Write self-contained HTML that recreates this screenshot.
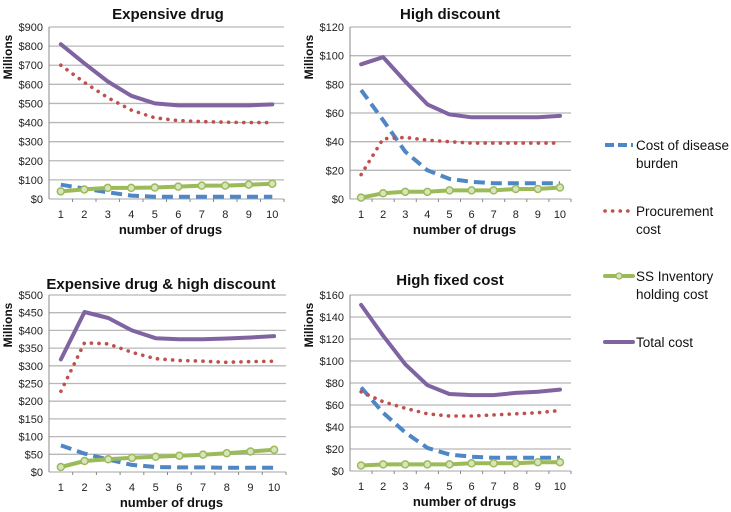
<!DOCTYPE html>
<html><head><meta charset="utf-8"><style>
body{margin:0;background:#fff;width:731px;height:512px;overflow:hidden;font-family:"Liberation Sans",sans-serif}
svg{display:block}
</style></head><body>
<svg id="s" width="731" height="512"></svg>
<script>
const categories=[1,2,3,4,5,6,7,8,9,10];
const titles=["Expensive drug","High discount","Expensive drug & high discount","High fixed cost"];
const yTicks1=[0,100,200,300,400,500,600,700,800,900];
const yTicks2=[0,20,40,60,80,100,120];
const yTicks3=[0,50,100,150,200,250,300,350,400,450,500];
const yTicks4=[0,20,40,60,80,100,120,140,160];
const disease1=[75,55,35,18,12,12,12,12,12,12];
const procure1=[700,610,530,465,425,410,405,402,400,400];
const ss1=[40,50,58,58,60,65,70,70,75,80];
const total1=[810,710,615,540,500,490,490,490,490,495];
const disease2=[76,55,33,20,14,12,11,11,11,11];
const procure2=[17,42,43,41,40,39,39,39,39,39];
const ss2=[1,4,5,5,6,6,6,7,7,8];
const total2=[94,99,82,66,59,57,57,57,57,58];
const disease3=[75,52,35,20,14,13,13,12,12,12];
const procure3=[228,365,362,338,320,315,313,310,312,313];
const ss3=[14,31,36,40,43,46,49,53,58,63];
const total3=[318,452,435,400,378,375,375,377,380,384];
const disease4=[76,53,35,21,15,13,12,12,12,12];
const procure4=[72,63,57,52,50,50,51,52,53,55];
const ss4=[5,6,6,6,6,7,7,7,8,8];
const total4=[151,123,97,78,70,69,69,71,72,74];

const NS="http://www.w3.org/2000/svg";
const svg=document.getElementById('s');
function mk(tag,attrs,parent,text){const e=document.createElementNS(NS,tag);for(const k in attrs)e.setAttribute(k,attrs[k]);if(text!==undefined)e.textContent=text;(parent||svg).appendChild(e);return e;}

const panels=[
 {x0:49,x1:284,yTop:27,yBot:199,ticks:yTicks1,series:[disease1,procure1,ss1,total1],tx:168,ty:19,name:'expensive-drug'},
 {x0:350,x1:571,yTop:27,yBot:199,ticks:yTicks2,series:[disease2,procure2,ss2,total2],tx:450,ty:19,name:'high-discount'},
 {x0:49,x1:286,yTop:295,yBot:472,ticks:yTicks3,series:[disease3,procure3,ss3,total3],tx:161,ty:289,name:'expensive-high-discount'},
 {x0:350,x1:571,yTop:295,yBot:471,ticks:yTicks4,series:[disease4,procure4,ss4,total4],tx:450,ty:285,name:'high-fixed-cost'}
];
const styles=[
 {stroke:'#4f86c6',w:4,dash:'11 6',cap:'butt',name:'disease-burden-line'},
 {stroke:'#c0504d',w:3.6,dash:'0.1 7.5',cap:'round',name:'procurement-line'},
 {stroke:'#9bbb59',w:4,dash:null,cap:'round',name:'ss-inventory-line'},
 {stroke:'#8064a2',w:4,dash:null,cap:'round',name:'total-cost-line'}
];
panels.forEach((p,pi)=>{
 const g=mk('g',{});
 
 
 const maxV=p.ticks[p.ticks.length-1];
 const yS=v=>p.yBot-(v/maxV)*(p.yBot-p.yTop);
 const band=(p.x1-p.x0)/categories.length;
 const xS=i=>p.x0+band*(i+0.5);
 p.ticks.forEach(t=>{
  const y=yS(t);
  const gl=mk('line',{x1:p.x0,x2:p.x1,y1:y,y2:y,stroke:'#b8b8b8','stroke-width':1.3},g);
  
  
  const lb=mk('text',{x:p.x0-6,y:y+4,'text-anchor':'end','font-size':'11',fill:'#222'},g,'$'+t);
  
  
 });
 mk('line',{x1:p.x0,x2:p.x0,y1:p.yTop,y2:p.yBot,stroke:'#888','stroke-width':1},g);
 categories.forEach((c,i)=>{
  mk('line',{x1:p.x0+band*(i+1),x2:p.x0+band*(i+1),y1:p.yBot,y2:p.yBot+3,stroke:'#888'},g);
  const xl=mk('text',{x:xS(i),y:p.yBot+19,'text-anchor':'middle','font-size':'11',fill:'#222'},g,String(c));
  
  
 });
 const xt=mk('text',{x:(p.x0+p.x1)/2+4,y:p.yBot+35,'text-anchor':'middle','font-size':'13','font-weight':'bold',fill:'#111'},g,'number of drugs');
 
 
 const yt=mk('text',{x:0,y:0,'text-anchor':'middle','font-size':'12','font-weight':'bold',fill:'#111',transform:`translate(${p.x0-37},${p.yTop+30}) rotate(-90)`},g,'Millions');
 
 
 const tt=mk('text',{x:p.tx,y:p.ty,'text-anchor':'middle','font-size':'15','font-weight':'bold',fill:'#111'},g,titles[pi]);
 
 
 p.series.forEach((arr,si)=>{
  const st=styles[si];
  const pts=arr.map((v,i)=>xS(i).toFixed(1)+','+yS(v).toFixed(1)).join(' ');
  const a={points:pts,fill:'none',stroke:st.stroke,'stroke-width':st.w,'stroke-linecap':st.cap,'stroke-linejoin':'round'};
  if(st.dash)a['stroke-dasharray']=st.dash;
  const pl=mk('polyline',a,g);
  
  
  if(si===2){arr.forEach((v,i)=>{
   const c=mk('circle',{cx:xS(i),cy:yS(v),r:3.5,fill:'#d7e4bd',stroke:'#9bbb59','stroke-width':1.5},g);
   
   
  });}
 });
});
const legend=[
 {lines:['Cost of disease','burden'],y:145},
 {lines:['Procurement','cost'],y:211},
 {lines:['SS Inventory','holding cost'],y:276},
 {lines:['Total cost'],y:342}
];
legend.forEach((l,i)=>{
 const st=styles[i];
 const g=mk('g',{});
 
 
 const a={x1:605,x2:633,y1:l.y,y2:l.y,stroke:st.stroke,'stroke-width':st.w,'stroke-linecap':st.cap};
 if(st.dash)a['stroke-dasharray']=i===0?'9 4':st.dash;
 mk('line',a,g);
 if(i===2)mk('circle',{cx:619,cy:l.y,r:3,fill:'#d7e4bd',stroke:'#9bbb59','stroke-width':1.3},g);
 l.lines.forEach((t,j)=>mk('text',{x:636,y:l.y+5+j*18,'font-size':'13.5',fill:'#111'},g,t));
});
</script>
</body></html>
